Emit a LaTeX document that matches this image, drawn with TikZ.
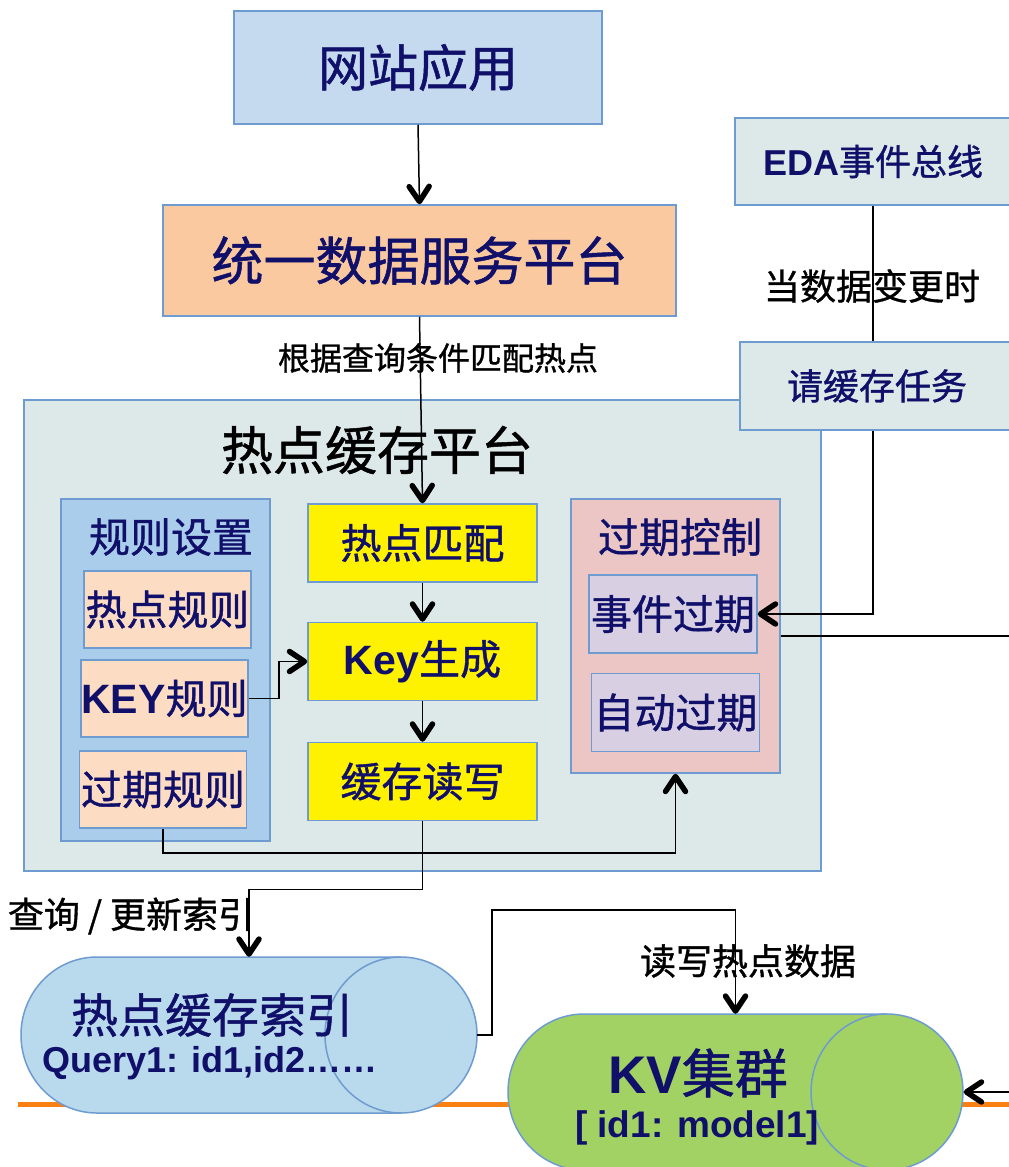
\documentclass[tikz,border=0pt]{standalone}
\usepackage{fontspec}
\setmainfont{Noto Sans CJK SC}[FakeBold=1]
\newfontfamily\latinfont{Liberation Sans}
\usetikzlibrary{arrows.meta}

\definecolor{navytext}{HTML}{10106A}
\definecolor{boxline}{HTML}{6E9BD0}
\definecolor{webfill}{HTML}{C5D9EF}
\definecolor{svcfill}{HTML}{FAC9A0}
\definecolor{platfill}{HTML}{DDE8E8}
\definecolor{rulefill}{HTML}{A9CDEB}
\definecolor{ruleitem}{HTML}{FCDCC3}
\definecolor{expfill}{HTML}{EBC6C5}
\definecolor{expitem}{HTML}{D8CFE2}
\definecolor{idxfill}{HTML}{B9D9EC}
\definecolor{kvfill}{HTML}{A2D264}
\definecolor{busline}{HTML}{FA8013}

\newcommand\fsz[1]{\fontsize{#1}{#1}\selectfont}
\newcommand\latb[1]{{\latinfont\bfseries #1}}

\tikzset{
  blk/.style={draw=boxline, line width=1.5pt, inner sep=0pt, text=navytext, font=\fsz{41}},
  ruleitembox/.style={blk, fill=ruleitem, minimum width=167pt, minimum height=77pt},
  stepbox/.style={blk, fill=yellow, minimum width=229pt, minimum height=78pt},
  expitembox/.style={blk, fill=expitem, minimum width=168pt, minimum height=78pt},
  store/.style={minimum width=456pt, minimum height=156pt, inner sep=0pt},
  storeline/.style={draw=boxline, line width=1.5pt},
  lbl/.style={inner sep=0pt, text=black, font=\fsz{36}},
  arr/.style={line width=1.5pt, -{Straight Barb[length=15pt,width=20pt,line width=5.5pt 0,round]}},
  link/.style={line width=1.5pt}
}

\begin{document}
\begin{tikzpicture}[x=1pt,y=-1pt]
\useasboundingbox (0,0) rectangle (1009,1167);
\clip (0,0) rectangle (1009,1167);

% top boxes
\node[blk, fill=webfill, minimum width=368pt, minimum height=113pt, font=\fsz{50}] (web) at (418,67.5) {网站应用};
\node[blk, fill=svcfill, minimum width=513pt, minimum height=111pt, font=\fsz{52}] (svc) at (419.5,260.5) {统一数据服务平台};

% platform
\node[blk, fill=platfill, minimum width=797pt, minimum height=471pt] (plat) at (422.5,635.5) {};
\node[lbl, font=\fsz{52}] (plattitle) at (377,450) {热点缓存平台};

% rules
\node[blk, fill=rulefill, minimum width=209pt, minimum height=342pt] (rules) at (165.5,670) {};
\node[blk, draw=none] (rulestitle) at (171,537) {规则设置};
\node[ruleitembox] (hotrule) at (167.5,609.5) {热点规则};
\node[ruleitembox] (keyrule) at (164.5,698.5) {\latb{KEY}规则};
\node[ruleitembox] (exprule) at (163,789.5) {过期规则};

% steps
\node[stepbox] (match) at (422.5,543) {热点匹配};
\node[stepbox] (keygen) at (422.5,661.5) {\latb{Key}生成};
\node[stepbox] (rw) at (422.5,781.5) {缓存读写};

% expiry
\node[blk, fill=expfill, minimum width=209pt, minimum height=274pt] (expctl) at (675.5,636) {};
\node[blk, draw=none] (expctltitle) at (680,537) {过期控制};
\node[expitembox] (evt) at (673,614) {事件过期};
\node[expitembox] (auto) at (675.5,712.5) {自动过期};

% event side
\node[blk, fill=platfill, minimum width=276pt, minimum height=87pt, font=\fsz{36}] (eda) at (873,161.5) {\latb{EDA}事件总线};
\node[blk, fill=platfill, minimum width=290pt, minimum height=88pt, font=\fsz{36}] (task) at (885,386) {\hspace*{-16pt}请缓存任务};

% storage
\draw[busline, line width=5pt] (18,1104) -- (1009,1104);
\node[store] (idx) at (249,1035) {};
\filldraw[storeline, fill=idxfill] (97,957) arc[start angle=270, end angle=90, x radius=76, y radius=78]
  -- (401,1113) arc[start angle=90, end angle=-90, x radius=76, y radius=78] -- cycle;
\draw[storeline] (401,957) arc[start angle=270, end angle=90, x radius=76, y radius=78];
\node[blk, draw=none, font=\fsz{47}] (idxname) at (212,1015) {热点缓存索引};
\node[blk, draw=none, font=\fsz{36}] (idxkeys) at (210,1063) {\latb{Query1: id1,id2……}};
\node[store] (kv) at (735.5,1092) {};
\filldraw[storeline, fill=kvfill] (584,1014) arc[start angle=270, end angle=90, x radius=76, y radius=78]
  -- (887,1170) arc[start angle=90, end angle=-90, x radius=76, y radius=78] -- cycle;
\draw[storeline] (887,1014) arc[start angle=270, end angle=90, x radius=76, y radius=78];
\node[blk, draw=none, font=\fsz{53}] (kvname) at (698,1073) {\latb{KV}集群};
\node[blk, draw=none, font=\fsz{37}] (kvval) at (697,1128) {\latb{[ id1: model1]}};

% labels
\node[lbl, font=\fsz{32}] (matchlbl) at (438,358) {根据查询条件匹配热点};
\node[lbl] (changelbl) at (872,286) {当数据变更时};
\node[lbl] (idxlbl) at (131,916) {查询 / 更新索引};
\node[lbl] (kvlbl) at (748,961) {读写热点数据};

% connectors
\draw[arr] (web.south) -- (svc.north);
\draw[arr] (svc.south) -- (match.north);
\draw[arr] (match.south) -- (keygen.north);
\draw[arr] (keygen.south) -- (rw.north);
\draw[arr] (keyrule.east) -- ++(30,0) |- (keygen.west);
\draw[arr] (exprule.south) -- ++(0,24) -| (expctl.south);
\draw[arr] (rw.south) -- ++(0,68) -| (idx.north);
\draw[link] (eda.south) -- (eda.south |- task.north);
\draw[arr] (eda.south |- task.south) |- (evt.east);
\draw[arr] (expctl.east) -- (1040,636) |- (kv.east);
\draw[arr] (idx.east) -- ++(15,0) -- ++(0,-125) -| (kv.north);
\end{tikzpicture}
\end{document}
